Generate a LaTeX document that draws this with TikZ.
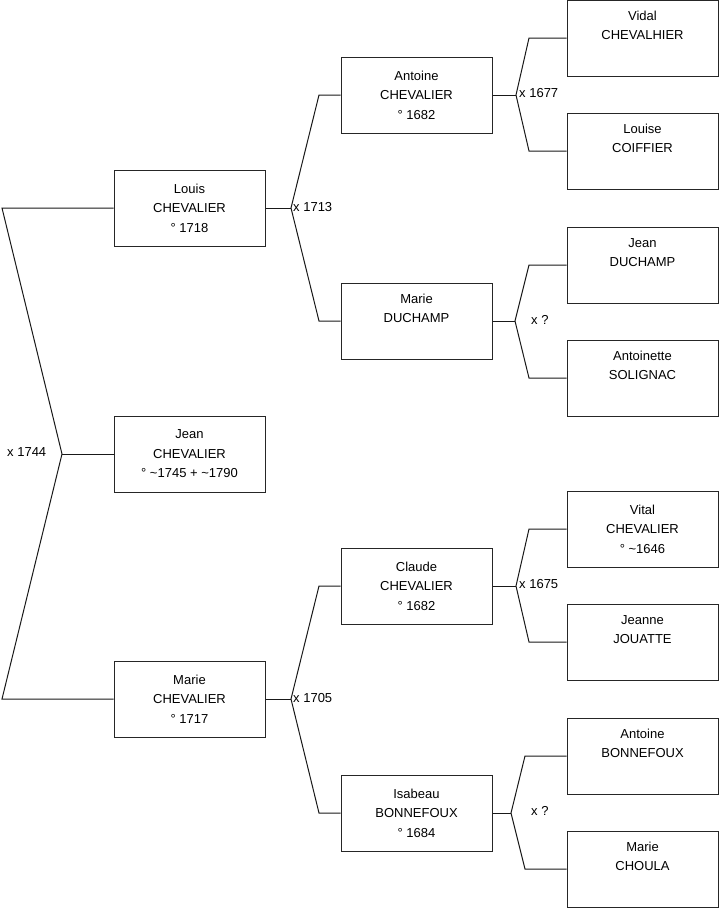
\documentclass[tikz,border=0pt]{standalone}
\usepackage{fontspec}
\setmainfont{Liberation Sans}
\begin{document}
\begin{tikzpicture}[x=1pt,y=-1pt,
  person/.style={draw=black!85, line width=1pt, minimum width=151pt, minimum height=76pt, inner sep=0pt, align=center, font=\fontsize{13}{19.5}\selectfont},
  link/.style={draw=black!90, line width=1pt},
  mlabel/.style={font=\fontsize{13}{14}\selectfont, inner sep=0pt, anchor=west}]
\useasboundingbox (0,0) rectangle (719,908);
% column 1
\node[person] (louis) at (189.5,208) {Louis\\CHEVALIER\\° 1718};
\node[person] (jean) at (189.5,454) {Jean\\CHEVALIER\\° \textasciitilde1745 + \textasciitilde1790};
\node[person] (marie) at (189.5,699) {Marie\\CHEVALIER\\° 1717};
% column 2
\node[person] (antoine) at (416.5,95) {Antoine\\CHEVALIER\\° 1682};
\node[person] (marieD) at (416.5,321) {Marie\\DUCHAMP\\\strut};
\node[person] (claude) at (416.5,586) {Claude\\CHEVALIER\\° 1682};
\node[person] (isabeau) at (416.5,813) {Isabeau\\BONNEFOUX\\° 1684};
% column 3
\node[person] (vidal) at (642.5,38) {Vidal\\CHEVALHIER\\\strut};
\node[person] (louise) at (642.5,151) {Louise\\COIFFIER\\\strut};
\node[person] (jeanD) at (642.5,265) {Jean\\DUCHAMP\\\strut};
\node[person] (antoinette) at (642.5,378) {Antoinette\\SOLIGNAC\\\strut};
\node[person] (vital) at (642.5,529) {Vital\\CHEVALIER\\° \textasciitilde1646};
\node[person] (jeanne) at (642.5,642) {Jeanne\\JOUATTE\\\strut};
\node[person] (antoineB) at (642.5,756) {Antoine\\BONNEFOUX\\\strut};
\node[person] (choula) at (642.5,869) {Marie\\CHOULA\\\strut};
% junctions
\coordinate (j0) at (62,454);
\coordinate (j0a) at (2,208);
\coordinate (j0b) at (2,699);
\coordinate (j1) at (291,208);
\coordinate (j1a) at (319,95);
\coordinate (j1b) at (319,321);
\coordinate (j2) at (291,699);
\coordinate (j2a) at (319,586);
\coordinate (j2b) at (319,813);
\coordinate (j3) at (516,95);
\coordinate (j3a) at (529,38);
\coordinate (j3b) at (529,151);
\coordinate (j4) at (515,321);
\coordinate (j4a) at (529,265);
\coordinate (j4b) at (529,378);
\coordinate (j5) at (516,586);
\coordinate (j5a) at (529,529);
\coordinate (j5b) at (529,642);
\coordinate (j6) at (511,813);
\coordinate (j6a) at (525,756);
\coordinate (j6b) at (525,869);
% connectors
\draw[link] (jean.west) -- (j0);
\draw[link] (louis.west) -- (j0a) -- (j0) -- (j0b) -- (marie.west);
\draw[link] (louis.east) -- (j1);
\draw[link] (antoine.west) -- (j1a) -- (j1) -- (j1b) -- (marieD.west);
\draw[link] (marie.east) -- (j2);
\draw[link] (claude.west) -- (j2a) -- (j2) -- (j2b) -- (isabeau.west);
\draw[link] (antoine.east) -- (j3);
\draw[link] (vidal.west) -- (j3a) -- (j3) -- (j3b) -- (louise.west);
\draw[link] (marieD.east) -- (j4);
\draw[link] (jeanD.west) -- (j4a) -- (j4) -- (j4b) -- (antoinette.west);
\draw[link] (claude.east) -- (j5);
\draw[link] (vital.west) -- (j5a) -- (j5) -- (j5b) -- (jeanne.west);
\draw[link] (isabeau.east) -- (j6);
\draw[link] (antoineB.west) -- (j6a) -- (j6) -- (j6b) -- (choula.west);
% labels
\node[mlabel] (m0) at (7,452) {x 1744};
\node[mlabel] (m1) at (293,207) {x 1713};
\node[mlabel] (m2) at (293,698) {x 1705};
\node[mlabel] (m3) at (519,93) {x 1677};
\node[mlabel] (m4) at (531,320) {x ?};
\node[mlabel] (m5) at (519,584) {x 1675};
\node[mlabel] (m6) at (531,811) {x ?};
\end{tikzpicture}
\end{document}
